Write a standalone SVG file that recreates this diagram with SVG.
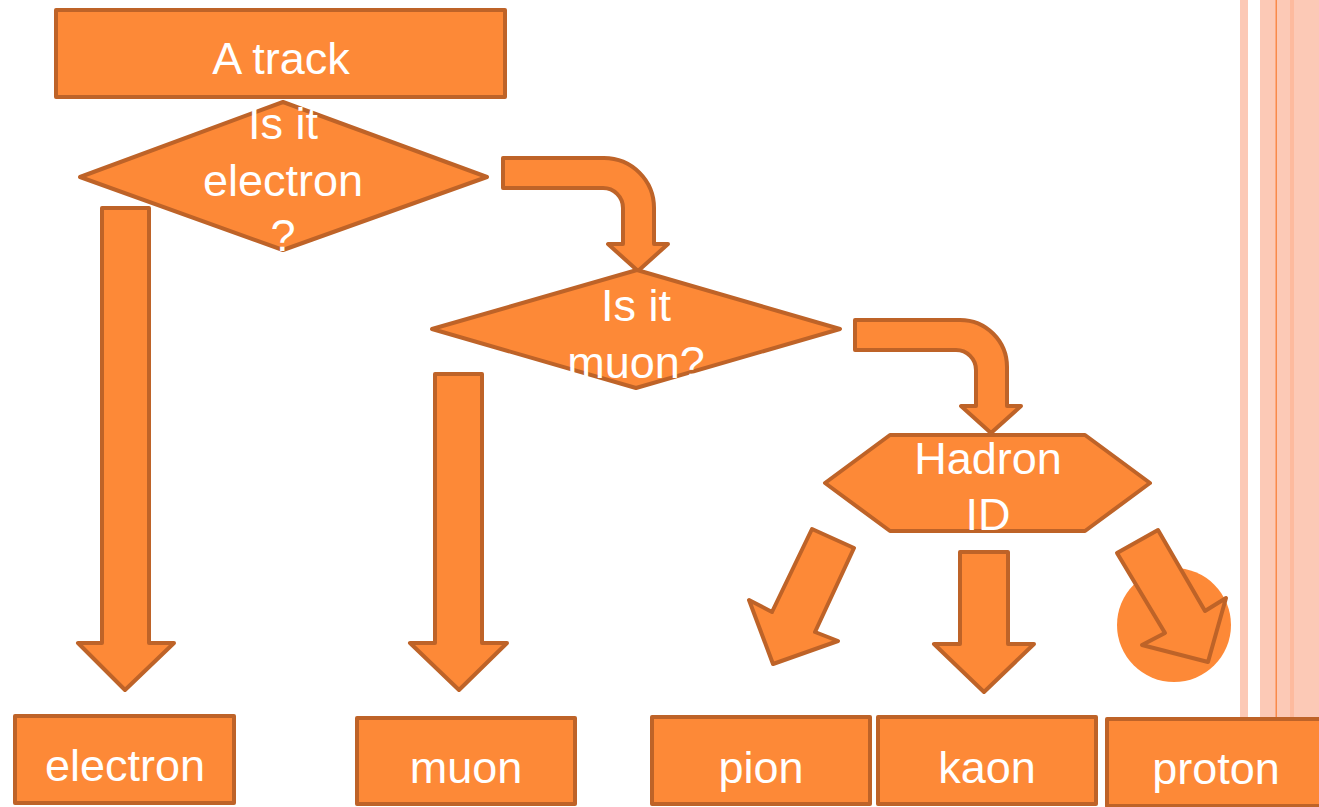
<svg xmlns="http://www.w3.org/2000/svg" width="1319" height="807" viewBox="0 0 1319 807">
<style>
.s{fill:#FD8937;stroke:#BE6328;stroke-width:4;stroke-linejoin:round}
.t{fill:#FFFFFF;font-family:"Liberation Sans",Arial,sans-serif;font-size:45px;text-anchor:middle}
</style>
<rect x="0" y="0" width="1319" height="807" fill="#FFFFFF"/>
<g id="stripes">
<rect x="1240" y="0" width="8" height="718" fill="#FCC9B6"/>
<rect x="1260" y="0" width="59" height="718" fill="#FCC9B6"/>
<rect x="1290" y="0" width="4" height="718" fill="#FDBA9E"/>
<rect x="1275.5" y="0" width="1.5" height="718" fill="#F98A4A"/>
</g>
<g id="circle"><circle cx="1174" cy="625" r="57" fill="#FD8937"/></g>
<g id="connectors">
<path class="s" d="M102,208 H149 V643 H174 L125,690 L78,643 H102 Z"/>
<path class="s" d="M435,374 H482 V643 H507 L459,690 L410,643 H435 Z"/>
<path class="s" d="M503,158 H604 A50,50 0 0 1 654,208 V244 H668 L638,271 L608,244 H623 V208 A20,20 0 0 0 603,188 H503 Z"/>
<path class="s" d="M855,320 H960 A47,47 0 0 1 1007,367 V406 H1021 L991,433 L961,406 H976 V370 A20,20 0 0 0 956,350 H855 Z"/>
<path class="s" d="M812,529 L854,548 L815,632 L838,641 L773,664 L749,600 L772,612 Z"/>
<path class="s" d="M960,552 H1008 V644 H1034 L984,692 L934,644 H960 Z"/>
<path class="s" d="M1117,553 L1158,530 L1205,611 L1226,598 L1208,662 L1142,645 L1165,633 Z"/>
</g>
<g id="track"><rect class="s" x="56" y="10" width="449" height="87"/><text class="t" x="281" y="74">A track</text></g>
<g id="q-electron"><polygon class="s" points="80,177 283,102 487,177 283,250"/>
<text class="t" x="283" y="139">Is it</text><text class="t" x="283" y="196">electron</text><text class="t" x="283" y="251">?</text></g>
<g id="q-muon"><polygon class="s" points="432,329 637,270 840,329 636,388"/>
<text class="t" x="636" y="321">Is it</text><text class="t" x="636" y="378">muon?</text></g>
<g id="hadron"><polygon class="s" points="825,483 890,435 1085,435 1150,483 1085,531 890,531"/>
<text class="t" x="988" y="474">Hadron</text><text class="t" x="988" y="530">ID</text></g>
<g id="electron"><rect class="s" x="15" y="716" width="219" height="87"/><text class="t" x="125" y="781">electron</text></g>
<g id="muon"><rect class="s" x="357" y="718" width="218" height="86"/><text class="t" x="466" y="783">muon</text></g>
<g id="pion"><rect class="s" x="652" y="717" width="218" height="87"/><text class="t" x="761" y="783">pion</text></g>
<g id="kaon"><rect class="s" x="878" y="717" width="218" height="87"/><text class="t" x="987" y="783">kaon</text></g>
<g id="proton"><rect class="s" x="1107" y="719" width="220" height="87"/><text class="t" x="1216" y="784">proton</text></g>
</svg>
